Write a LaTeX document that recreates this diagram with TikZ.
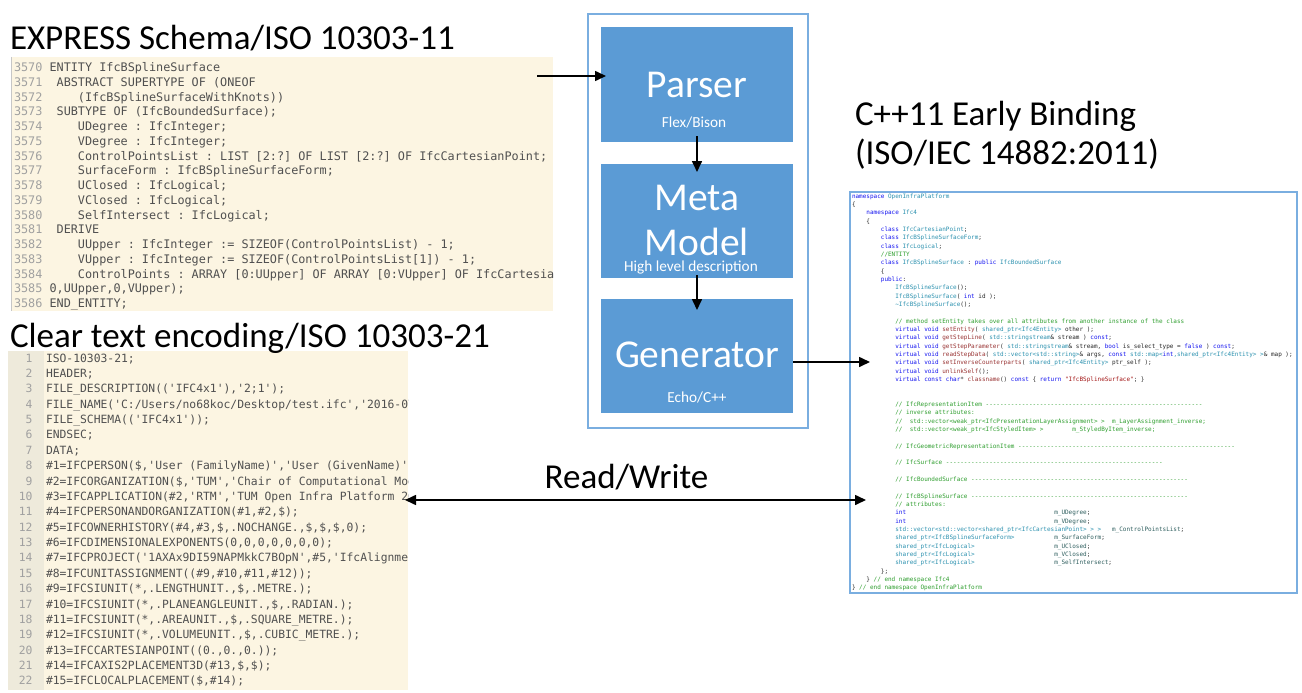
\documentclass[tikz,border=0pt]{standalone}
\usepackage{fontspec}
\setmainfont{Carlito}
\setmonofont{DejaVu Sans Mono}
\usetikzlibrary{arrows.meta}
\definecolor{boxblue}{HTML}{5B9BD5}
\definecolor{frameblue}{HTML}{7AAEE0}
\definecolor{beige}{HTML}{FCF5E2}
\definecolor{gutter}{HTML}{EEEADB}
\definecolor{codegray}{HTML}{505050}
\definecolor{numgray}{HTML}{A0A0A0}
\definecolor{ckwc}{HTML}{1515F0}
\definecolor{ctyc}{HTML}{2B91AF}
\definecolor{ccmc}{HTML}{2E9E2E}
\definecolor{cstc}{HTML}{A31515}
\definecolor{cfnc}{HTML}{993333}
\definecolor{cmbc}{HTML}{2F5F5F}
\newcommand\csp[1]{\hspace*{#1\fontcharwd\font`0}}
\newcommand\ckw[1]{\textcolor{ckwc}{#1}}
\newcommand\cty[1]{\textcolor{ctyc}{#1}}
\newcommand\ccm[1]{\textcolor{ccmc}{#1}}
\newcommand\cst[1]{\textcolor{cstc}{#1}}
\newcommand\cfn[1]{\textcolor{cfnc}{#1}}
\newcommand\cmb[1]{\textcolor{cmbc}{#1}}
\newcommand\tn[1]{\textcolor{numgray}{#1}\csp{1}}
\newcommand\cdash{------------------------------------------------------------}
\begin{document}
\begin{tikzpicture}[x=1pt,y=-1pt,
  every node/.style={inner sep=0pt, outer sep=0pt},
  title/.style={font=\fontsize{35}{39}\selectfont, anchor=base west, text=black},
  stepbox/.style={fill=boxblue, minimum width=192pt, anchor=north west},
  biglbl/.style={font=\fontsize{39.5}{45}\selectfont, text=white, align=center},
  smalllbl/.style={font=\fontsize{15.3}{18}\selectfont, text=white, anchor=base},
  codebg/.style={fill=beige, anchor=north west},
  arr/.style={line width=1.6pt, -{Triangle[length=11pt,width=10pt]}},
  arrs/.style={line width=1.6pt, {Triangle[length=11pt,width=10pt]}-{Triangle[length=11pt,width=10pt]}},
]
\useasboundingbox[fill=white] (0,0) rectangle (1302,693);

% ---------- titles ----------
\node[title] (exptitle) at (10,50) {EXPRESS Schema/ISO 10303-11};

% ---------- EXPRESS code ----------
\node[codebg, minimum width=542pt, minimum height=254pt] (expbg) at (11,57) {};
\draw[color=black!22, line width=1pt] (expbg.north west) -- (expbg.south west);
\begin{scope}
\clip (expbg.north west) rectangle (expbg.south east);
\node[anchor=north west, align=left, text=codegray,
      font=\fontsize{11.81}{14.75}\selectfont\ttfamily\frenchspacing] (expcode) at (14,61.6) {%
\rule{0pt}{10pt}\tn{3570}ENTITY IfcBSplineSurface\\
\tn{3571}\csp{1}ABSTRACT SUPERTYPE OF (ONEOF\\
\tn{3572}\csp{4}(IfcBSplineSurfaceWithKnots))\\
\tn{3573}\csp{1}SUBTYPE OF (IfcBoundedSurface);\\
\tn{3574}\csp{4}UDegree : IfcInteger;\\
\tn{3575}\csp{4}VDegree : IfcInteger;\\
\tn{3576}\csp{4}ControlPointsList : LIST [2:?] OF LIST [2:?] OF IfcCartesianPoint;\\
\tn{3577}\csp{4}SurfaceForm : IfcBSplineSurfaceForm;\\
\tn{3578}\csp{4}UClosed : IfcLogical;\\
\tn{3579}\csp{4}VClosed : IfcLogical;\\
\tn{3580}\csp{4}SelfIntersect : IfcLogical;\\
\tn{3581}\csp{1}DERIVE\\
\tn{3582}\csp{4}UUpper : IfcInteger := SIZEOF(ControlPointsList) - 1;\\
\tn{3583}\csp{4}VUpper : IfcInteger := SIZEOF(ControlPointsList[1]) - 1;\\
\tn{3584}\csp{4}ControlPoints : ARRAY [0:UUpper] OF ARRAY [0:VUpper] OF IfcCartesianPoint\\
\tn{3585}0,UUpper,0,VUpper);\\
\tn{3586}END\_ENTITY;};
\end{scope}

% ---------- STEP code ----------
\node[codebg, minimum width=400pt, minimum height=339pt] (stepbg) at (8,351) {};
\node[fill=gutter, anchor=north west, minimum width=36pt, minimum height=339pt] (stepgut) at (8,351) {};
\node[title] (steptitle) at (10,347) {Clear text encoding/ISO 10303-21};
\node[anchor=north east, align=right, text=numgray,
      font=\fontsize{11.35}{15.38}\selectfont\ttfamily] (stepnums) at (32.5,352) {%
\rule{0pt}{10pt}1\\2\\3\\4\\5\\6\\7\\8\\9\\10\\11\\12\\13\\14\\15\\16\\17\\18\\19\\20\\21\\22};
\begin{scope}
\clip (stepbg.north west) rectangle (stepbg.south east);
\node[anchor=north west, align=left, text=codegray,
      font=\fontsize{11.35}{15.38}\selectfont\ttfamily\frenchspacing] (stepcode) at (46,352) {%
\rule{0pt}{10pt}ISO-10303-21;\\
HEADER;\\
FILE\_DESCRIPTION(('IFC4x1'),'2;1');\\
FILE\_NAME('C:/Users/no68koc/Desktop/test.ifc','2016-07-20T10:00:00');\\
FILE\_SCHEMA(('IFC4x1'));\\
ENDSEC;\\
DATA;\\
\#1=IFCPERSON(\$,'User (FamilyName)','User (GivenName)',\$,\$,\$,\$);\\
\#2=IFCORGANIZATION(\$,'TUM','Chair of Computational Modeling',\$,\$);\\
\#3=IFCAPPLICATION(\#2,'RTM','TUM Open Infra Platform 2016','OIP');\\
\#4=IFCPERSONANDORGANIZATION(\#1,\#2,\$);\\
\#5=IFCOWNERHISTORY(\#4,\#3,\$,.NOCHANGE.,\$,\$,\$,0);\\
\#6=IFCDIMENSIONALEXPONENTS(0,0,0,0,0,0,0);\\
\#7=IFCPROJECT('1AXAx9DI59NAPMkkC7BOpN',\#5,'IfcAlignment',\$,\$);\\
\#8=IFCUNITASSIGNMENT((\#9,\#10,\#11,\#12));\\
\#9=IFCSIUNIT(*,.LENGTHUNIT.,\$,.METRE.);\\
\#10=IFCSIUNIT(*,.PLANEANGLEUNIT.,\$,.RADIAN.);\\
\#11=IFCSIUNIT(*,.AREAUNIT.,\$,.SQUARE\_METRE.);\\
\#12=IFCSIUNIT(*,.VOLUMEUNIT.,\$,.CUBIC\_METRE.);\\
\#13=IFCCARTESIANPOINT((0.,0.,0.));\\
\#14=IFCAXIS2PLACEMENT3D(\#13,\$,\$);\\
\#15=IFCLOCALPLACEMENT(\$,\#14);};
\end{scope}

% ---------- centre pipeline ----------
\draw[frameblue, line width=1.3pt] (588,14) rectangle (808,428);
\node[stepbox, minimum height=115pt] (parser) at (601,27) {};
\node[stepbox, minimum height=114pt] (meta) at (601,164) {};
\node[stepbox, minimum height=114pt] (gen) at (601,299) {};
\node[biglbl, anchor=base] (parserlbl) at (697,97) {Parser};
\node[smalllbl] (parsersub) at (694,128) {Flex/Bison};
\node[biglbl, anchor=north] (metalbl) at (697,180) {\rule{0pt}{30pt}Meta\\Model};
\node[smalllbl] (metasub) at (691,271) {High level description};
\node[biglbl, anchor=base] (genlbl) at (697,367) {Generator};
\node[smalllbl] (gensub) at (697,402) {Echo/C++};
\draw[arr, shorten <=-6pt, shorten >=-8pt] (parser.south) -- (meta.north);
\draw[arr, shorten <=-3pt, shorten >=-11pt] (meta.south) -- (gen.north);

% ---------- C++ ----------
\node[title, anchor=north west, align=left] (cpptitle) at (855,97)
  {\rule{0pt}{28pt}C++11 Early Binding\\(ISO/IEC 14882:2011)};
\node[draw=frameblue, line width=1.5pt, anchor=north west, minimum width=447pt, minimum height=401pt] (cppbox) at (850,192) {};
\node[anchor=north west, align=left, text=black!85,
      font=\fontsize{6}{8.33}\selectfont\ttfamily\frenchspacing] (cppcode) at (852,193.2) {%
\rule{0pt}{5pt}\ckw{namespace} \cty{OpenInfraPlatform}\\
\{\\
\csp{4}\ckw{namespace} \cty{Ifc4}\\
\csp{4}\{\\
\csp{8}\ckw{class} \cty{IfcCartesianPoint};\\
\csp{8}\ckw{class} \cty{IfcBSplineSurfaceForm};\\
\csp{8}\ckw{class} \cty{IfcLogical};\\
\csp{8}\ccm{//ENTITY}\\
\csp{8}\ckw{class} \cty{IfcBSplineSurface} : \ckw{public} \cty{IfcBoundedSurface}\\
\csp{8}\{\\
\csp{8}\ckw{public}:\\
\csp{12}\cty{IfcBSplineSurface}();\\
\csp{12}\cty{IfcBSplineSurface}( \ckw{int} id );\\
\csp{12}\cty{\textasciitilde IfcBSplineSurface}();\\
\mbox{}\\
\csp{12}\ccm{// method setEntity takes over all attributes from another instance of the class}\\
\csp{12}\ckw{virtual} \ckw{void} \cfn{setEntity}( \cty{shared\_ptr<Ifc4Entity>} other );\\
\csp{12}\ckw{virtual} \ckw{void} \cfn{getStepLine}( \cty{std::stringstream}\& stream ) \ckw{const};\\
\csp{12}\ckw{virtual} \ckw{void} \cfn{getStepParameter}( \cty{std::stringstream}\& stream, \ckw{bool} is\_select\_type = \ckw{false} ) \ckw{const};\\
\csp{12}\ckw{virtual} \ckw{void} \cfn{readStepData}( \cty{std::vector<std::string>}\& args, \ckw{const} \cty{std::map<}\ckw{int}\cty{,shared\_ptr<Ifc4Entity> >}\& map );\\
\csp{12}\ckw{virtual} \ckw{void} \cfn{setInverseCounterparts}( \cty{shared\_ptr<Ifc4Entity>} ptr\_self );\\
\csp{12}\ckw{virtual} \ckw{void} \cfn{unlinkSelf}();\\
\csp{12}\ckw{virtual} \ckw{const} \ckw{char}* \cfn{classname}() \ckw{const} \{ \ckw{return} \cst{"IfcBSplineSurface"}; \}\\
\mbox{}\\
\mbox{}\\
\csp{12}\ccm{// IfcRepresentationItem \cdash}\\
\csp{12}\ccm{// inverse attributes:}\\
\csp{12}\ccm{//\csp{2}std::vector<weak\_ptr<IfcPresentationLayerAssignment> >\csp{2}m\_LayerAssignment\_inverse;}\\
\csp{12}\ccm{//\csp{2}std::vector<weak\_ptr<IfcStyledItem> >\csp{8}m\_StyledByItem\_inverse;}\\
\mbox{}\\
\csp{12}\ccm{// IfcGeometricRepresentationItem \cdash}\\
\mbox{}\\
\csp{12}\ccm{// IfcSurface \cdash}\\
\mbox{}\\
\csp{12}\ccm{// IfcBoundedSurface \cdash}\\
\mbox{}\\
\csp{12}\ccm{// IfcBSplineSurface \cdash}\\
\csp{12}\ccm{// attributes:}\\
\csp{12}\ckw{int}\csp{41}\cmb{m\_UDegree};\\
\csp{12}\ckw{int}\csp{41}\cmb{m\_VDegree};\\
\csp{12}\cty{std::vector<std::vector<shared\_ptr<IfcCartesianPoint> > >}\csp{3}\cmb{m\_ControlPointsList};\\
\csp{12}\cty{shared\_ptr<IfcBSplineSurfaceForm>}\csp{11}\cmb{m\_SurfaceForm};\\
\csp{12}\cty{shared\_ptr<IfcLogical>}\csp{22}\cmb{m\_UClosed};\\
\csp{12}\cty{shared\_ptr<IfcLogical>}\csp{22}\cmb{m\_VClosed};\\
\csp{12}\cty{shared\_ptr<IfcLogical>}\csp{22}\cmb{m\_SelfIntersect};\\
\csp{8}\};\\
\csp{4}\} \ccm{// end namespace Ifc4}\\
\} \ccm{// end namespace OpenInfraPlatform}};

% ---------- connectors ----------
\coordinate (inS) at (537,76);
\draw[arr, shorten >=-5pt] (inS) -- (inS -| parser.west);
\coordinate (genOut) at (793,362);
\draw[arr, shorten >=-20pt] (genOut) -- (genOut -| cppbox.west);
\coordinate (rwL) at (405,500);
\coordinate (rwR) at (866,500);
\draw[arrs] (rwL) -- (rwR);
\node[title, anchor=base] (rwlbl) at (626.5,488) {Read/Write};
\end{tikzpicture}
\end{document}
